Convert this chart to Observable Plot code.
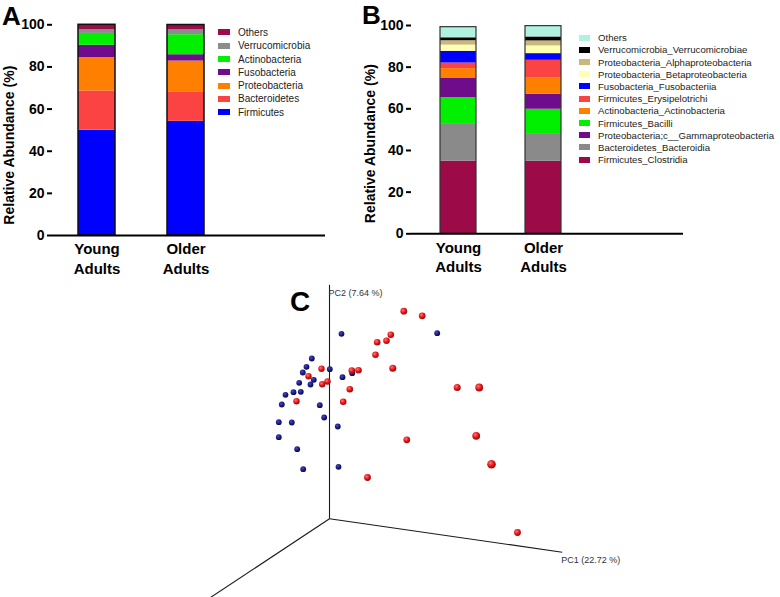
<!DOCTYPE html>
<html><head><meta charset="utf-8">
<script src="https://cdn.jsdelivr.net/npm/d3@7"></script>
<script src="https://cdn.jsdelivr.net/npm/@observablehq/plot@0.6"></script>
<style>
html,body{margin:0;padding:0;background:#fff;}
#fig{position:relative;width:780px;height:597px;overflow:hidden;font-family:"Liberation Sans",Arial,sans-serif;}
.panel{position:absolute;}
.letter{position:absolute;font-weight:bold;line-height:1;color:#000;}
.legend{position:absolute;font-size:10px;color:#222;}
.legend .row{display:flex;align-items:center;white-space:nowrap;}
.legend .sw{display:inline-block;flex:none;}
</style></head><body><div id="fig"></div>
<script>
// ---------- DATA ----------
const groups = ["Young Adults", "Older Adults"];

// Panel A (phylum level), stacked bottom -> top
const phylaA = ["Firmicutes","Bacteroidetes","Proteobacteria","Fusobacteria","Actinobacteria","Verrucomicrobia","Others"];
const youngA = [50.0, 18.6, 15.8, 5.9, 5.6, 1.7, 2.4];
const olderA = [54.2, 14.0, 14.6, 3.0, 9.5, 2.3, 2.3];
const colorsA = ["#0000ff","#fc4343","#ff8000","#6f0c8c","#00f000","#8c8c8c","#9c0c4c"];

// Panel B (class level), stacked bottom -> top
const classesB = ["Firmicutes_Clostridia","Bacteroidetes_Bacteroidia","Firmicutes_Bacilli","Proteobacteria;c__Gammaproteobacteria","Actinobacteria_Actinobacteria","Firmicutes_Erysipelotrichi","Fusobacteria_Fusobacteriia","Proteobacteria_Betaproteobacteria","Proteobacteria_Alphaproteobacteria","Verrucomicrobia_Verrucomicrobiae","Others"];
const youngB = [34.9, 18.0, 12.5, 9.4, 4.5, 2.7, 5.6, 3.0, 2.1, 1.4, 5.1];
const olderB = [34.8, 13.3, 11.7, 7.2, 7.8, 8.5, 3.2, 3.7, 2.4, 1.9, 5.2];
const colorsB = ["#9c0a48","#8a8a8a","#00f000","#6f0c8c","#ff8000","#fc4343","#0000ff","#ffffb0","#c8b87c","#000000","#b0f2e0"];
// legend order as printed (top -> bottom)
const legendB = ["Others","Verrucomicrobia_Verrucomicrobiae","Proteobacteria_Alphaproteobacteria","Proteobacteria_Betaproteobacteria","Fusobacteria_Fusobacteriia","Firmicutes_Erysipelotrichi","Actinobacteria_Actinobacteria","Firmicutes_Bacilli","Proteobacteria;c__Gammaproteobacteria","Bacteroidetes_Bacteroidia","Firmicutes_Clostridia"];
const legendA = ["Others","Verrucomicrobia","Actinobacteria","Fusobacteria","Proteobacteria","Bacteroidetes","Firmicutes"];

const yTicks = [0, 20, 40, 60, 80, 100];

// Panel C (PCoA, projected positions of the 3-D view)
const youngPC1 = [12,107.7,-17.7,-23,-26.7,0.3,-15.7,-19,-30.3,13,22.7,-44,-36,-28.7,-47.7,-9.7,-5.3,-50.7,-37.7,8.3,-50.7,-32.3,-26.3,9];
const youngPC2 = [185,185.6,160.3,152,146.3,149.6,139,134.3,136,141.6,145.6,124,126.6,127,114.3,113.6,101.3,96.6,96.3,92.3,81.6,69.6,49.6,52];
const olderPC1 = [74.3,92.7,61.3,57,47.7,46,63.3,-8,22.3,29,-21,-2,-7.3,20.3,-33,13.7,127.7,149.7,146.7,77.3,162,38,188];
const olderPC2 = [207.6,203,184,178,176.6,164,150.6,150,148.3,148.6,142.6,137.3,134.6,129.6,117.6,117,131.3,131.3,83,79,54.6,41.3,-13.7];
const olderSize = [3.4,3.4,3.3,3.3,3.3,3.3,3.5,3.2,3.3,3.3,3.2,3.2,3.2,3.3,3.2,3.3,3.5,3.9,3.9,3.4,4.3,3.4,3.4];
const axisNames = ["PC1 (22.72 %)", "PC2 (7.64 %)", ""];
const axisEndX = [232.7, 0, -124];
const axisEndY = [-33.4, 234, -82];

// ---------- BUILD ----------
const fig = document.getElementById("fig");
const FONT = '"Liberation Sans", Arial, sans-serif';

function stackRows(names, young, older) {
  const rows = [];
  names.forEach((n, i) => rows.push({group: groups[0], taxon: n, value: young[i]}));
  names.forEach((n, i) => rows.push({group: groups[1], taxon: n, value: older[i]}));
  return rows;
}

function barPanel({names, young, older, colors, left, width, height, mLeft, mRight, mTop, mBottom,
                   pInner, pOuter, align, outline, outlineW, titleDx, titleDy}) {
  const rows = stackRows(names, young, older);
  const totals = groups.map(g => ({group: g, total: d3.sum(rows.filter(r => r.group === g), r => r.value)}));
  const chart = Plot.plot({
    width, height,
    marginLeft: mLeft, marginRight: mRight, marginTop: mTop, marginBottom: mBottom,
    style: {fontFamily: FONT, background: "transparent", overflow: "visible"},
    x: {type: "band", domain: [...groups, ""], paddingInner: pInner, paddingOuter: pOuter, align, axis: null},
    y: {domain: [0, 100], axis: null},
    color: {domain: names, range: colors},
    marks: [
      Plot.barY(rows, {x: "group", y: "value", fill: "taxon"}),
      Plot.barY(totals, {x: "group", y: "total", fill: "none", stroke: outline, strokeWidth: outlineW}),
      Plot.ruleY([0], {stroke: "#000", strokeWidth: 2}),
      Plot.axisY({ticks: yTicks, tickSize: 5, tickPadding: 3, fontSize: 14, fontWeight: "bold",
                  stroke: "#000", strokeWidth: 2, color: "#000", label: null, line: true}),
      Plot.text(groups, {x: d => d, text: d => d.replace(" ", "\n"), frameAnchor: "bottom",
                         lineAnchor: "top", dy: 5, lineHeight: 1.3, fontSize: 15, fontWeight: "bold", fill: "#000"}),
      Plot.text(["Relative Abundance (%)"], {text: d => d, frameAnchor: "left", rotate: -90,
                         dx: titleDx, dy: titleDy, fontSize: 14, fontWeight: "bold", fill: "#000", textAnchor: "middle"})
    ]
  });
  chart.classList.add("panel");
  chart.style.left = left + "px";
  chart.style.top = "0px";
  fig.appendChild(chart);
}

barPanel({names: phylaA, young: youngA, older: olderA, colors: colorsA, left: 0, width: 360, height: 285,
          mLeft: 52, mRight: 35, mTop: 24.3, mBottom: 50, pInner: 0.589, pOuter: 0.313, align: 0.449,
          outline: "#111", outlineW: 1.5, titleDx: -43, titleDy: 15});
barPanel({names: classesB, young: youngB, older: olderB, colors: colorsB, left: 360, width: 420, height: 285,
          mLeft: 51, mRight: 97, mTop: 25, mBottom: 51.7, pInner: 0.581, pOuter: 0.372, align: 0.442,
          outline: "#333", outlineW: 1.2, titleDx: -41, titleDy: 14});

function legend(items, names, colors, left, top, rowH, swW, swH, gap, fs) {
  const div = document.createElement("div");
  div.className = "legend";
  div.style.left = left + "px";
  div.style.top = top + "px";
  div.style.fontSize = fs + "px";
  items.forEach(name => {
    const row = document.createElement("div");
    row.className = "row";
    row.style.height = rowH + "px";
    const sw = document.createElement("span");
    sw.className = "sw";
    sw.style.width = swW + "px";
    sw.style.height = swH + "px";
    sw.style.marginRight = gap + "px";
    sw.style.background = colors[names.indexOf(name)];
    const t = document.createElement("span");
    t.textContent = name;
    row.appendChild(sw); row.appendChild(t);
    div.appendChild(row);
  });
  fig.appendChild(div);
}
legend(legendA, phylaA, colorsA, 218, 25.7, 13.33, 12, 6, 8, 10);
legend(legendB, classesB, colorsB, 579, 31.6, 12.2, 11, 6, 8, 9.6);

// Panel C
const pts = [
  ...youngPC1.map((x, i) => ({x, y: youngPC2[i], r: 2.9, g: "young"})),
  ...olderPC1.map((x, i) => ({x, y: olderPC2[i], r: olderSize[i], g: "older"}))
];
const axes = axisNames.map((n, i) => ({name: n, x: axisEndX[i], y: axisEndY[i]}));
function defs() {
  const d = d3.create("svg:defs");
  const mk = (id, c0, c1, c2) => {
    const g = d.append("radialGradient").attr("id", id).attr("cx", "38%").attr("cy", "35%").attr("r", "65%");
    g.append("stop").attr("offset", "0%").attr("stop-color", c0);
    g.append("stop").attr("offset", "55%").attr("stop-color", c1);
    g.append("stop").attr("offset", "100%").attr("stop-color", c2);
  };
  mk("gBlue", "#4a4ac0", "#1c1c86", "#0b0b4a");
  mk("gRed", "#ff7a7a", "#e8141b", "#9a0a0a");
  return d.node();
}
const pca = Plot.plot({
  width: 480, height: 317, margin: 0,
  style: {fontFamily: FONT, background: "transparent", overflow: "visible"},
  x: {domain: [-179, 301], axis: null},
  y: {domain: [-78.7, 238.3], axis: null},
  r: {type: "identity"},
  marks: [
    defs,
    Plot.link(axes, {x1: () => 0, y1: () => 0, x2: "x", y2: "y", stroke: "#1a1a1a", strokeWidth: 1.1}),
    Plot.text(axes, {x: "x", y: "y", text: "name", textAnchor: "start", fontSize: 9, fill: "#333",
                     dx: -1, dy: 8}),
    Plot.dot(pts.filter(p => p.g === "young"), {x: "x", y: "y", r: "r", fill: "url(#gBlue)"}),
    Plot.dot(pts.filter(p => p.g === "older"), {x: "x", y: "y", r: "r", fill: "url(#gRed)"})
  ]
});
pca.classList.add("panel");
pca.style.left = "150px";
pca.style.top = "280px";
fig.appendChild(pca);

// panel letters
[["A", 2, 3, 26], ["B", 362, 1.5, 26], ["C", 290, 288, 28]].forEach(([t, l, tp, fs]) => {
  const d = document.createElement("div");
  d.className = "letter";
  d.textContent = t;
  d.style.left = l + "px"; d.style.top = tp + "px"; d.style.fontSize = fs + "px";
  fig.appendChild(d);
});
</script></body></html>
